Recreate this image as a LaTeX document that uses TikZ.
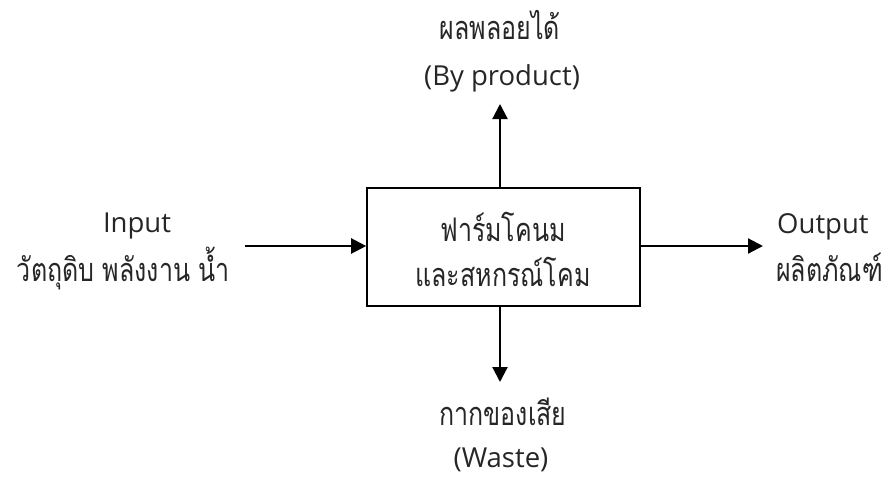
\documentclass[tikz,border=0pt]{standalone}
\usepackage{fontspec}
\usepackage{graphicx}
\setmainfont{Open Sans}
\newfontfamily\thaifont[Script=Thai]{Loma}
\newcommand{\thaitxt}[1]{\scalebox{1}[1.3]{#1}}
\usetikzlibrary{arrows.meta}
\tikzset{
  thai/.style={font=\thaifont\fontsize{25}{30}\selectfont, inner sep=0pt, anchor=base, text=black!85},
  latin/.style={font=\fontsize{27.5}{30}\selectfont, inner sep=0pt, anchor=base, text=black!85},
  flow/.style={line width=2.2pt, -{Triangle[length=15pt,width=15pt]}},
  procbox/.style={draw, line width=1.6pt, minimum width=273pt, minimum height=118pt, inner sep=0pt}
}
\begin{document}
\begin{tikzpicture}[x=1pt,y=-1pt]
\useasboundingbox (0,0) rectangle (889,477);
\node[procbox] (box) at (503.5,247) {};
\node[thai] (b1) at (503,241) {\thaitxt{ฟาร์มโคนม}};
\node[thai] (b2) at (503,286) {\thaitxt{และสหกรณ์โคม}};
\node[thai] (t1) at (500,39) {\thaitxt{ผลพลอยได้}};
\node[latin] (t2) at (502,85) {(By product)};
\node[thai] (d1) at (503,425) {\thaitxt{กากของเสีย}};
\node[latin] (d2) at (501,467) {(Waste)};
\node[latin] (i1) at (137,232) {Input};
\node[thai, anchor=base east] (i2) at (230,281) {\thaitxt{วัตถุดิบ พลังงาน น้ำ}};
\node[latin, anchor=base west] (o1) at (777,233) {Output};
\node[thai, anchor=base west] (o2) at (776,281) {\thaitxt{ผลิตภัณฑ์}};
\coordinate (inS) at (245,246);
\coordinate (outE) at (763,246);
\coordinate (upE) at (500,104);
\coordinate (dnE) at (500,382);
\draw[flow] (inS) -- (box.west |- inS);
\draw[flow] (box.east |- outE) -- (outE);
\draw[flow] (box.north -| upE) -- (upE);
\draw[flow] (box.south -| dnE) -- (dnE);
\end{tikzpicture}
\end{document}
